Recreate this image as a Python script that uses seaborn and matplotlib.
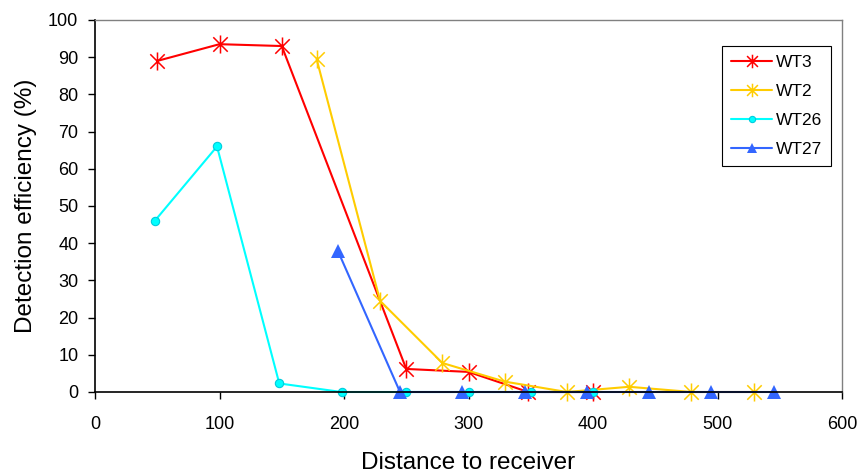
import pandas as pd
import matplotlib
matplotlib.use('Agg')
import matplotlib.pyplot as plt
from matplotlib.path import Path
import seaborn as sns

wt3_x = [50, 100, 150, 250, 300, 348, 400]
wt3_y = [89, 93.5, 93, 6.2, 5.4, 0, 0]
wt2_x = [178, 229, 279, 329, 379, 429, 479, 529]
wt2_y = [89.5, 24.5, 7.8, 2.8, 0, 1.4, 0, 0]
wt26_x = [48, 98, 148, 198, 250, 300, 350, 400]
wt26_y = [46, 66, 2.3, 0, 0, 0, 0, 0]
wt27_x = [195, 245, 295, 345, 395, 445, 495, 545]
wt27_y = [38, 0, 0, 0, 0, 0, 0, 0]

sns.set_style('ticks')
plt.rcParams['font.family'] = ['Liberation Sans', 'DejaVu Sans']
plt.rcParams['text.color'] = 'black'
plt.rcParams['xtick.color'] = 'black'
plt.rcParams['ytick.color'] = 'black'
plt.rcParams['axes.labelcolor'] = 'black'

# excel-like star: an X plus a vertical bar
star = Path([(-1, -1), (1, 1), (-1, 1), (1, -1), (0, -1.25), (0, 1.25)],
            [Path.MOVETO, Path.LINETO, Path.MOVETO, Path.LINETO, Path.MOVETO, Path.LINETO])

fig = plt.figure(figsize=(8.6, 4.73), dpi=100)
ax = fig.add_axes([95/860, 1-392/473, (842-95)/860, (392-20)/473])

sns.lineplot(x=wt3_x, y=wt3_y, ax=ax, color='#FF0000', marker=star, markersize=13,
             markeredgewidth=1.1, markeredgecolor='#FF0000', linewidth=1.5, label='WT3', clip_on=False)
sns.lineplot(x=wt2_x, y=wt2_y, ax=ax, color='#FFCC00', marker=star, markersize=13,
             markeredgewidth=1.1, markeredgecolor='#FFCC00', linewidth=1.5, label='WT2', clip_on=False)
sns.lineplot(x=wt26_x, y=wt26_y, ax=ax, color='#00FFFF', marker='o', markersize=6,
             markeredgewidth=0.8, markeredgecolor='#00CCDD', linewidth=1.5, label='WT26', clip_on=False)
sns.lineplot(x=wt27_x, y=wt27_y, ax=ax, color='#3366FF', marker='^', markersize=9.5,
             markeredgewidth=0, linewidth=1.5, label='WT27', clip_on=False)

ax.set_xlim(0, 600)
ax.set_ylim(0, 100)
ax.set_xticks(range(0, 601, 100))
ax.set_yticks(range(0, 101, 10))
ax.tick_params(labelsize=13, length=5, width=1, direction='out')
ax.tick_params(axis='x', pad=12)
ax.tick_params(axis='y', pad=7)
ax.set_xlabel('Distance to receiver', fontsize=17.5, labelpad=14)
ax.set_ylabel('Detection efficiency (%)', fontsize=17.5, labelpad=8)
for s in ax.spines.values():
    s.set_linewidth(1.2)
    s.set_color('black')
for s in ['top', 'right']:
    ax.spines[s].set_color('#808080')
    ax.spines[s].set_linewidth(1)

leg = ax.legend(loc='upper right', bbox_to_anchor=(0.985, 0.93), fontsize=12.5,
                frameon=True, fancybox=False, edgecolor='black', framealpha=1,
                handlelength=2.4, labelspacing=0.8, borderpad=0.5, handletextpad=0.2,
                borderaxespad=0)
leg.get_frame().set_linewidth(0.8)
for h in leg.legend_handles:
    h.set_markersize(h.get_markersize() * 0.75)

fig.savefig('out.png', dpi=100)
